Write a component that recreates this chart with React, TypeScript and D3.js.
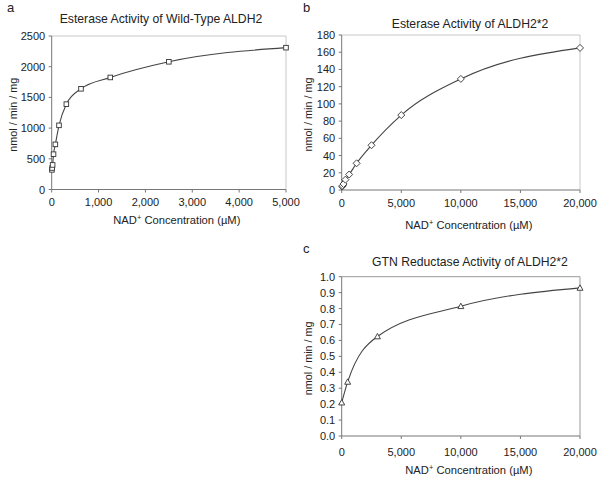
import React from "react";
import * as d3 from "d3";

// Panel a: Esterase activity of wild-type ALDH2
const aX = [5, 10, 19.5, 39, 78, 156, 312.5, 625, 1250, 2500, 5000];
const aY = [320, 350, 400, 575, 735, 1045, 1390, 1640, 1825, 2080, 2310];
// Panel b: Esterase activity of ALDH2*2
const bX = [39, 78, 156, 312, 625, 1250, 2500, 5000, 10000, 20000];
const bY = [4, 5, 7, 12, 18, 31, 52, 87, 129, 165];
// Panel c: GTN reductase activity of ALDH2*2
const cX = [0, 500, 3000, 10000, 20000];
const cY = [0.21, 0.34, 0.625, 0.815, 0.93];

const aXTicks = [0, 1000, 2000, 3000, 4000, 5000];
const aYTicks = [0, 500, 1000, 1500, 2000, 2500];
const bXTicks = [0, 5000, 10000, 15000, 20000];
const bYTicks = [0, 20, 40, 60, 80, 100, 120, 140, 160, 180];
const cXTicks = [0, 5000, 10000, 15000, 20000];
const cYTicks = [0, 0.1, 0.2, 0.3, 0.4, 0.5, 0.6, 0.7, 0.8, 0.9, 1.0];

const FONT = "'Liberation Sans', Arial, sans-serif";

type PanelProps = {
  letter: string;
  letterX: number;
  letterY: number;
  title: string;
  titleX: number;
  titleY: number;
  xs: number[];
  ys: number[];
  xTicks: number[];
  yTicks: number[];
  xMax: number;
  yMax: number;
  left: number;
  right: number;
  top: number;
  bottom: number;
  tickOff: number;
  xLabelY: number;
  yLabelX: number;
  yFmt: (v: number) => string;
  marker: "square" | "diamond" | "triangle";
  borderColor: string;
};

function Marker({ kind, x, y }: { kind: string; x: number; y: number }) {
  const common = { fill: "#fff", stroke: "#333", strokeWidth: 0.9 };
  if (kind === "square") {
    return <rect x={x - 2.3} y={y - 2.3} width={4.6} height={4.6} {...common} />;
  }
  if (kind === "diamond") {
    const s = 3.5;
    return <path d={`M${x},${y - s}L${x + s},${y}L${x},${y + s}L${x - s},${y}Z`} {...common} />;
  }
  const s = 3;
  return <path d={`M${x},${y - s}L${x + s},${y + s * 0.8}L${x - s},${y + s * 0.8}Z`} {...common} />;
}

function Panel(p: PanelProps) {
  const x = d3.scaleLinear().domain([0, p.xMax]).range([p.left, p.right]);
  const y = d3.scaleLinear().domain([0, p.yMax]).range([p.bottom, p.top]);
  const pts: [number, number][] = p.xs.map((v, i) => [x(v), y(p.ys[i])]);
  const line = d3.line().curve(d3.curveMonotoneX)(pts) || "";
  const xFmt = d3.format(",");
  const cx = (p.left + p.right) / 2;
  return (
    <g fontFamily={FONT} fill="#222">
      <text x={p.letterX} y={p.letterY} fontSize={13}>{p.letter}</text>
      <text x={p.titleX} y={p.titleY} fontSize={12.2} textAnchor="middle">{p.title}</text>
      <path
        d={`M${p.left},${p.top}H${p.right}V${p.bottom}`}
        fill="none"
        stroke={p.borderColor}
        strokeWidth={1}
      />
      <line x1={p.left} x2={p.left} y1={p.top} y2={p.bottom} stroke="#777" strokeWidth={1} />
      <line x1={p.left} x2={p.right} y1={p.bottom} y2={p.bottom} stroke="#777" strokeWidth={1} />
      {p.yTicks.map((t) => (
        <g key={"y" + t}>
          <line x1={p.left - 3} x2={p.left} y1={y(t)} y2={y(t)} stroke="#777" />
          <text x={p.left - 6.5} y={y(t) + 4} fontSize={11} textAnchor="end">{p.yFmt(t)}</text>
        </g>
      ))}
      {p.xTicks.map((t) => (
        <g key={"x" + t}>
          <line x1={x(t)} x2={x(t)} y1={p.bottom} y2={p.bottom + 3} stroke="#777" />
          <text x={x(t)} y={p.bottom + p.tickOff} fontSize={11} textAnchor="middle">{xFmt(t)}</text>
        </g>
      ))}
      <text x={cx + 8} y={p.xLabelY} fontSize={11.2} textAnchor="middle">
        NAD<tspan fontSize={7.5} dy={-4}>+</tspan><tspan dy={4}> Concentration (µM)</tspan>
      </text>
      <text
        transform={`translate(${p.yLabelX},${(p.top + p.bottom) / 2 + 2}) rotate(-90)`}
        fontSize={10.8}
        textAnchor="middle"
      >
        nmol / min / mg
      </text>
      <path d={line} fill="none" stroke="#444" strokeWidth={1.1} />
      {pts.map(([px, py], i) => (
        <Marker key={i} kind={p.marker} x={px} y={py} />
      ))}
    </g>
  );
}

export default function App() {
  return (
    <svg
      width={600}
      height={480}
      style={{ position: "absolute", left: 0, top: 0, background: "#fff" }}
    >
      <rect width={600} height={480} fill="#fff" />
      <Panel
        letter="a"
        letterX={7}
        letterY={12}
        title="Esterase Activity of Wild-Type ALDH2"
        titleX={161}
        titleY={22.5}
        xs={aX}
        ys={aY}
        xTicks={aXTicks}
        yTicks={aYTicks}
        xMax={5000}
        yMax={2500}
        left={51.7}
        right={286}
        top={36}
        bottom={189.5}
        tickOff={16}
        xLabelY={223.5}
        yLabelX={16.5}
        yFmt={(v) => String(v)}
        marker="square"
        borderColor="#c8c8c8"
      />
      <Panel
        letter="b"
        letterX={303}
        letterY={12}
        title="Esterase Activity of ALDH2*2"
        titleX={470}
        titleY={27.5}
        xs={bX}
        ys={bY}
        xTicks={bXTicks}
        yTicks={bYTicks}
        xMax={20000}
        yMax={180}
        left={341.7}
        right={580}
        top={35}
        bottom={190}
        tickOff={17}
        xLabelY={228.5}
        yLabelX={312}
        yFmt={(v) => String(v)}
        marker="diamond"
        borderColor="#c8c8c8"
      />
      <Panel
        letter="c"
        letterX={303}
        letterY={252.5}
        title="GTN Reductase Activity of ALDH2*2"
        titleX={470}
        titleY={265.5}
        xs={cX}
        ys={cY}
        xTicks={cXTicks}
        yTicks={cYTicks}
        xMax={20000}
        yMax={1.0}
        left={341.7}
        right={580}
        top={276.7}
        bottom={436}
        tickOff={19.5}
        xLabelY={473.5}
        yLabelX={312}
        yFmt={d3.format(".1f")}
        marker="triangle"
        borderColor="#999"
      />
    </svg>
  );
}
